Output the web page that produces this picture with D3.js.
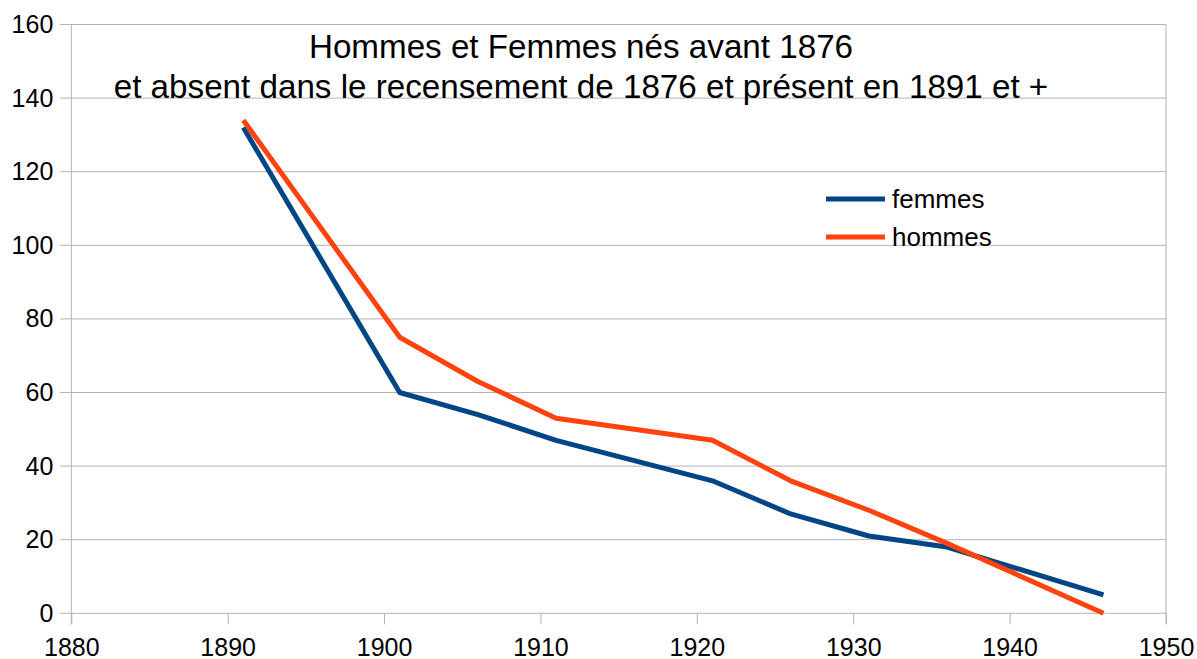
<!DOCTYPE html>
<html>
<head>
<meta charset="utf-8">
<script src="https://cdn.jsdelivr.net/npm/d3@7"></script>
<style>
  html, body { margin: 0; padding: 0; background: #fff; }
  text { font-family: "Liberation Sans", Arial, sans-serif; }
</style>
</head>
<body>
<div id="chart"></div>
<script>
const years = [1891, 1901, 1906, 1911, 1921, 1926, 1931, 1936, 1946];
const femmes = [132, 60, 54, 47, 36, 27, 21, 18, 5];
const hommes = [134, 75, 63, 53, 47, 36, 28, 19, 0];
const xTicks = [1880, 1890, 1900, 1910, 1920, 1930, 1940, 1950];
const yTicks = [0, 20, 40, 60, 80, 100, 120, 140, 160];
const titleLines = ["Hommes et Femmes nés avant 1876", "et absent dans le recensement de 1876 et présent en 1891 et +"];

const W = 1197, H = 659;
const margin = { top: 24.5, right: 31, bottom: 45.7, left: 71.3 };
const width = W - margin.left - margin.right;
const height = H - margin.top - margin.bottom;

const svg = d3.select("#chart").append("svg")
  .attr("width", W).attr("height", H);
const g = svg.append("g").attr("transform", `translate(${margin.left},${margin.top})`);

const x = d3.scaleLinear().domain([1880, 1950]).range([0, width]);
const y = d3.scaleLinear().domain([0, 160]).range([height, 0]);

// Horizontal grid lines (extend left as ticks)
g.append("g")
  .selectAll("line")
  .data(yTicks)
  .join("line")
  .attr("x1", -11).attr("x2", width)
  .attr("y1", (d) => y(d)).attr("y2", (d) => y(d))
  .attr("stroke", "#b3b3b3").attr("stroke-width", 1);

// Left and right borders
g.append("line").attr("x1", 0).attr("x2", 0).attr("y1", 0).attr("y2", height + 11)
  .attr("stroke", "#b3b3b3");
g.append("line").attr("x1", width).attr("x2", width).attr("y1", 0).attr("y2", height + 11)
  .attr("stroke", "#b3b3b3");

// X axis
g.append("g")
  .attr("transform", `translate(0,${height})`)
  .call(d3.axisBottom(x).tickValues(xTicks).tickFormat(d3.format("d")).tickSize(11).tickPadding(14))
  .call((a) => a.select(".domain").remove())
  .call((a) => a.selectAll("line").attr("stroke", "#b3b3b3"))
  .selectAll("text")
  .attr("fill", "#000")
  .attr("font-size", "25px")
  .attr("font-family", "'Liberation Sans', Arial, sans-serif");

// Y axis
g.append("g")
  .call(d3.axisLeft(y).tickValues(yTicks).tickSize(0).tickPadding(18))
  .call((a) => a.select(".domain").remove())
  .selectAll("text")
  .attr("fill", "#000")
  .attr("font-size", "25px")
  .attr("font-family", "'Liberation Sans', Arial, sans-serif");

// Lines
const series = [
  { name: "femmes", values: femmes, color: "#004586" },
  { name: "hommes", values: hommes, color: "#ff420e" }
];
const line = d3.line().x((d) => x(d[0])).y((d) => y(d[1]));
series.forEach((s) => {
  g.append("path")
    .datum(years.map((yr, i) => [yr, s.values[i]]))
    .attr("fill", "none")
    .attr("stroke", s.color)
    .attr("stroke-width", 5)
    .attr("stroke-linejoin", "round")
    .attr("d", line);
});

// Legend
const legend = svg.append("g").attr("transform", "translate(826,199)");
series.forEach((s, i) => {
  legend.append("line")
    .attr("x1", 0).attr("x2", 59)
    .attr("y1", i * 38).attr("y2", i * 38)
    .attr("stroke", s.color).attr("stroke-width", 5);
  legend.append("text")
    .attr("x", 66).attr("y", i * 38)
    .attr("dy", "0.35em")
    .attr("font-size", "26px")
    .attr("fill", "#000")
    .text(s.name);
});

// Title
svg.append("g").selectAll("text")
  .data(titleLines)
  .join("text")
  .attr("x", 581)
  .attr("y", (d, i) => 58 + i * 39.5)
  .attr("text-anchor", "middle")
  .attr("font-size", "33.2px")
  .attr("fill", "#000")
  .text((d) => d);
</script>
</body>
</html>
